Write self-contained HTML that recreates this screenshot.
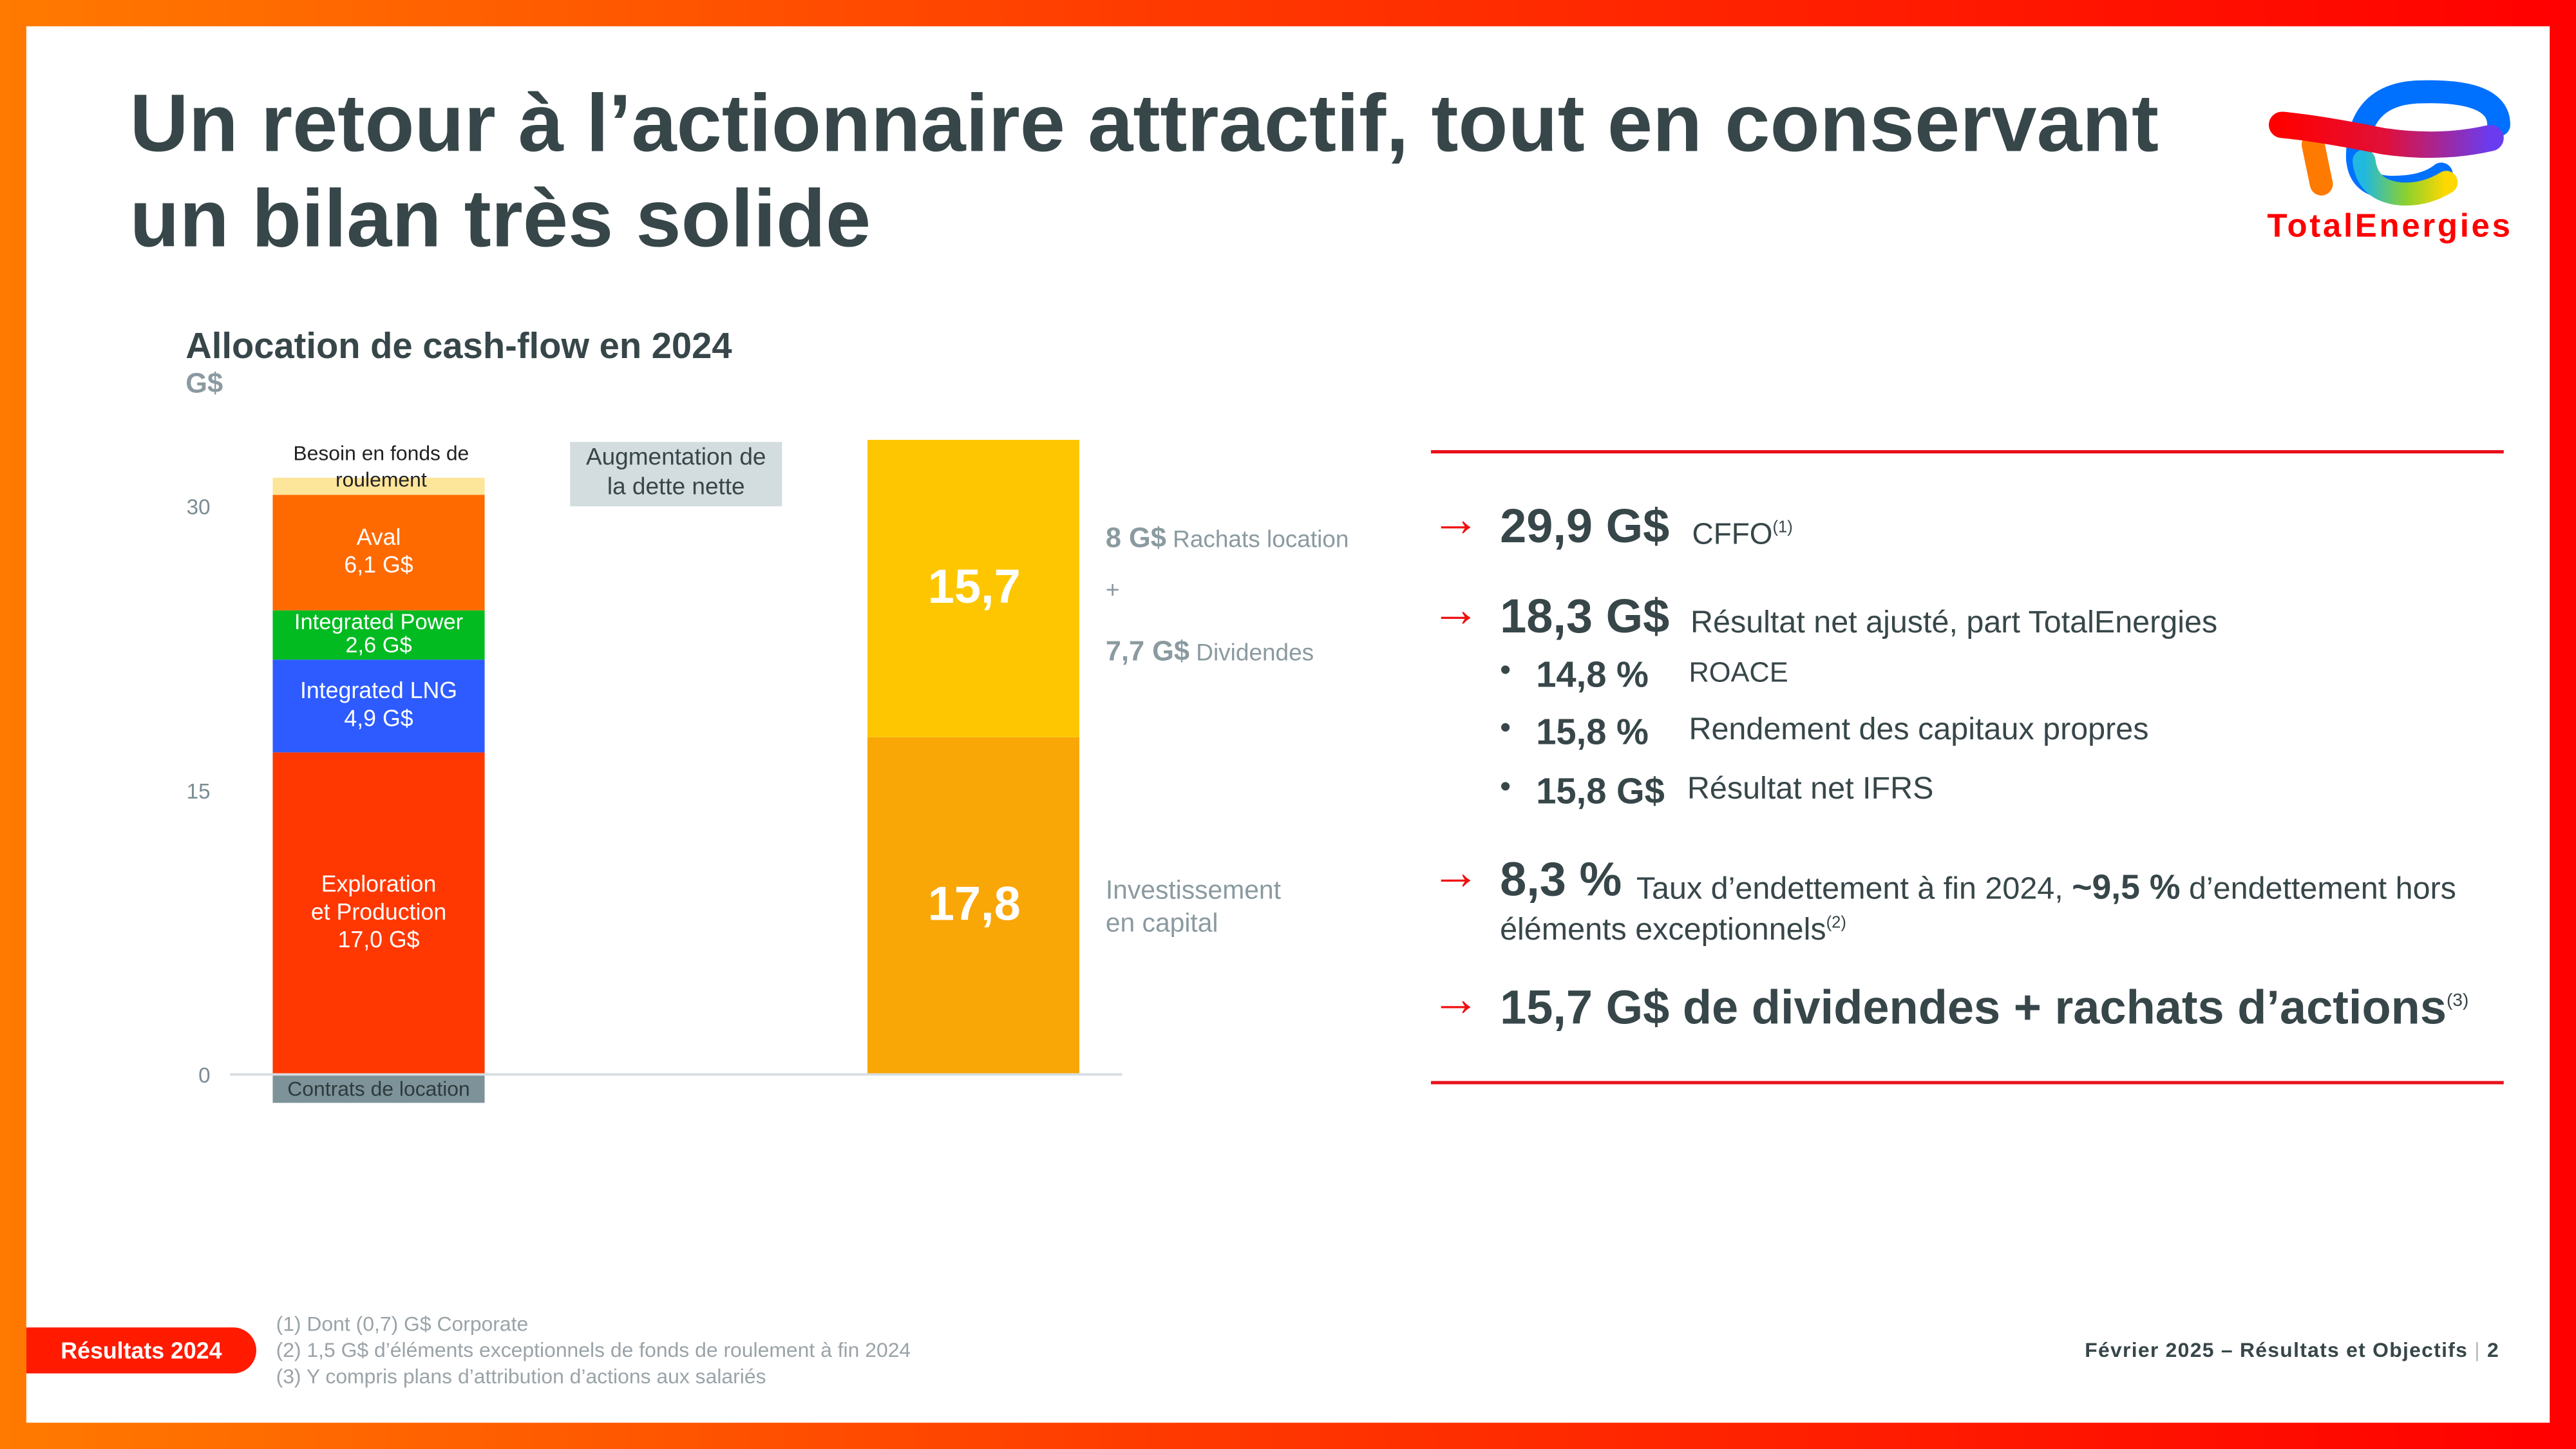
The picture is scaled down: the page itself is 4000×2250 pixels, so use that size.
<!DOCTYPE html>
<html><head><meta charset="utf-8">
<style>
html,body{margin:0;padding:0;width:4000px;height:2250px;overflow:hidden;}
#stage{position:absolute;left:0;top:0;width:1568px;height:882px;transform:scale(2.55102);transform-origin:0 0;font-family:"Liberation Sans",sans-serif;background:linear-gradient(90deg,#ff7a00,#ff3a00 45%,#ff0000);}
#page{position:absolute;left:16px;top:16px;width:1536px;height:850px;background:#fff;}
.abs{position:absolute;}
.arr{color:#f01010;font-size:30px;font-weight:bold;position:absolute;left:0;top:-6px;}
</style></head><body>
<div id="stage">
<div id="page">
  <div class="abs" style="left:63px;top:31px;font-size:49.5px;font-weight:bold;color:#374649;line-height:58px;white-space:nowrap;">Un retour à l’actionnaire attractif, tout en conservant<br>un bilan très solide</div>
  <svg class="abs" style="left:1355px;top:20px" width="170" height="135" viewBox="0 0 170 135">
    <defs>
      <linearGradient id="lg1" x1="0" x2="1"><stop offset="0" stop-color="#ff0000"/><stop offset=".5" stop-color="#e0103a"/><stop offset="1" stop-color="#6a3cf0"/></linearGradient>
      <linearGradient id="lg2" x1="0" x2="1" y1="0" y2="0"><stop offset="0" stop-color="#20b8e0"/><stop offset=".5" stop-color="#8ad030"/><stop offset="1" stop-color="#ffd800"/></linearGradient>
    </defs>
    <path d="M115 70 Q105 78 85 78 Q65 78 64 60 Q64 22 100 20 Q150 18 150 40" fill="none" stroke="#0070ff" stroke-width="14" stroke-linecap="round"/>
    <path d="M68 62 Q70 80 90 82 Q105 83 118 75" fill="none" stroke="url(#lg2)" stroke-width="14" stroke-linecap="round"/>
    <path d="M42 76 L37 52" fill="none" stroke="#ff7a00" stroke-width="14" stroke-linecap="round"/>
    <path d="M18 40 Q40 42 80 50 Q115 55 145 48" fill="none" stroke="url(#lg1)" stroke-width="16" stroke-linecap="round"/>
    <text x="9" y="108" font-size="20" font-weight="bold" fill="#ff0000" font-family="Liberation Sans, sans-serif" textLength="148">TotalEnergies</text>
  </svg>
  <div class="abs" style="left:97px;top:182px;font-size:22px;font-weight:bold;color:#374649;">Allocation de cash-flow en 2024</div>
  <div class="abs" style="left:97px;top:208px;font-size:17px;font-weight:bold;color:#8a9aa0;">G$</div>

  <svg id="chart" class="abs" style="left:-16px;top:-16px" width="850" height="720"></svg>

  <div class="abs" style="left:855px;top:258px;width:653px;height:2px;background:#e8101a"></div>
  <div class="abs" style="left:855px;top:642px;width:653px;height:2px;background:#e8101a"></div>

  <div class="abs" style="left:855px;top:0;width:680px;color:#374649;">
    <div class="abs" style="left:0;top:290px;white-space:nowrap"><span class="arr">→</span><span style="position:absolute;left:42px;top:-1px;font-size:29px;font-weight:bold">29,9 G$</span><span style="position:absolute;left:159px;top:9px;font-size:18px">CFFO<sup style="font-size:10px">(1)</sup></span></div>
    <div class="abs" style="left:0;top:345px;white-space:nowrap"><span class="arr">→</span><span style="position:absolute;left:42px;top:-1px;font-size:29px;font-weight:bold">18,3 G$</span><span style="position:absolute;left:158px;top:8px;font-size:19px">Résultat net ajusté, part TotalEnergies</span></div>
    <div class="abs" style="left:42px;top:382px;white-space:nowrap;font-size:19px">•<b style="position:absolute;left:22px;font-size:22px">14,8 %</b><span style="position:absolute;left:115px;top:2px;font-size:17px">ROACE</span></div>
    <div class="abs" style="left:42px;top:417px;white-space:nowrap;font-size:19px">•<b style="position:absolute;left:22px;font-size:22px">15,8 %</b><span style="position:absolute;left:115px;top:1px">Rendement des capitaux propres</span></div>
    <div class="abs" style="left:42px;top:453px;white-space:nowrap;font-size:19px">•<b style="position:absolute;left:22px;font-size:22px">15,8 G$</b><span style="position:absolute;left:114px;top:1px">Résultat net IFRS</span></div>
    <div class="abs" style="left:0;top:505px;white-space:nowrap"><span class="arr">→</span><span style="position:absolute;left:42px;top:-1px;font-size:29px;font-weight:bold">8,3 %</span><span style="position:absolute;left:125px;top:8px;font-size:19px">Taux d’endettement à fin 2024, <b style="font-size:21px">~9,5 %</b> d’endettement hors</span><span style="position:absolute;left:42px;top:35px;font-size:19px">éléments exceptionnels<sup style="font-size:10px">(2)</sup></span></div>
    <div class="abs" style="left:0;top:582px;white-space:nowrap"><span class="arr">→</span><span style="position:absolute;left:42px;top:0;font-size:29px;font-weight:bold">15,7 G$ de dividendes + rachats d’actions<sup style="font-size:11px;font-weight:normal">(3)</sup></span></div>
  </div>

  <div class="abs" style="left:0;top:792px;width:140px;height:28px;background:#ff1a00;border-radius:0 14px 14px 0;color:#fff;font-size:14px;font-weight:bold;line-height:28px;text-align:center;">Résultats 2024</div>
  <div class="abs" style="left:152px;top:782px;font-size:12.5px;color:#9aa3a8;line-height:16px;">(1) Dont (0,7) G$ Corporate<br>(2) 1,5 G$ d’éléments exceptionnels de fonds de roulement à fin 2024<br>(3) Y compris plans d’attribution d’actions aux salariés</div>
  <div class="abs" style="left:1253px;top:799px;font-size:12.5px;font-weight:bold;color:#374649;letter-spacing:.5px;white-space:nowrap">Février 2025 – Résultats et Objectifs <span style="color:#bbb;font-weight:normal">|</span> 2</div>
</div>
</div>
<script>
const yTicks=[0,15,30];
const leftLabels=["Exploration|et Production|17,0 G$","Integrated LNG|4,9 G$","Integrated Power|2,6 G$","Aval|6,1 G$","Besoin en fonds de|roulement"];
const leftValues=[17.0,4.9,2.6,6.1,0.9];
const leftColors=["#ff3700","#2d5bff","#02bb21","#ff6a00","#fde59a"];
const leaseValue=-1.5;
const rightValues=[17.8,15.7];
const rightLabels=["17,8","15,7"];
const rightColors=["#f9a607","#fdc600"];
const netDebtValue=3.4;

const svg=document.getElementById('chart');
const NS='http://www.w3.org/2000/svg';
const y0=654, pxPer=11.53;
function y(v){return y0-v*pxPer;}
function el(tag,attrs,txt){const e=document.createElementNS(NS,tag);for(const k in attrs)e.setAttribute(k,attrs[k]);if(txt!==undefined)e.textContent=txt;svg.appendChild(e);return e;}
function lines(parts,cx,cy,lh,attrs){parts.forEach((p,i)=>{const t=el('text',Object.assign({x:cx,y:cy+(i-(parts.length-1)/2)*lh,'text-anchor':'middle','dominant-baseline':'middle'},attrs),p);

});}

yTicks.forEach(v=>{const t=el('text',{x:128,y:y(v)+5,'text-anchor':'end','font-size':13,fill:'#7a8c92','font-family':'Liberation Sans, sans-serif'},String(v));

});

const lr=el('rect',{x:166,y:y(0),width:129,height:y(leaseValue)-y(0),fill:'#7d9399'});


lines(["Contrats de location"],230.5,(y(0)+y(leaseValue))/2+1,14,{'font-size':12.5,fill:'#2e3a3d','font-family':'Liberation Sans, sans-serif'});

let acc=0;
leftValues.forEach((v,i)=>{const top=y(acc+v),bot=y(acc);
const r=el('rect',{x:166,y:top,width:129,height:bot-top,fill:leftColors[i]});


const parts=leftLabels[i].split('|');
if(i===4){lines(parts,232,top-6,16,{'font-size':12.5,fill:'#222','font-family':'Liberation Sans, sans-serif'});}
else{const small=i===2;lines(parts,230.5,(top+bot)/2,small?14:17,{'font-size':small?13.5:14,fill:'#fff','font-family':'Liberation Sans, sans-serif'});}
acc+=v;});

const nd=el('rect',{x:347,y:269,width:129,height:netDebtValue*pxPer,fill:'#d3dcdf'});


lines(["Augmentation de","la dette nette"],411.5,288,18,{'font-size':14.5,fill:'#374649','font-family':'Liberation Sans, sans-serif'});

acc=0;
rightValues.forEach((v,i)=>{const top=y(acc+v),bot=y(acc);
const r=el('rect',{x:528,y:top,width:129,height:bot-top,fill:rightColors[i]});


lines([rightLabels[i]],593,(top+bot)/2+1,20,{'font-size':29,'font-weight':'bold',fill:'#fff','font-family':'Liberation Sans, sans-serif'});
acc+=v;});

const ax=el('line',{x1:140,x2:683,y1:y0,y2:y0,stroke:'#d7dde0','stroke-width':1.5});



const ann=[[673,333,'<tspan font-weight="bold" font-size="17">8 G$</tspan> Rachats location'],[673,364,'+'],[673,402,'<tspan font-weight="bold" font-size="17">7,7 G$</tspan> Dividendes'],[673,547,'Investissement'],[673,567,'en capital']];
ann.forEach(a=>{const t=el('text',{x:a[0],y:a[1],'font-size':a[1]>500?16:14.5,fill:'#8a9aa0','font-family':'Liberation Sans, sans-serif'});t.innerHTML=a[2];

});
</script>
</body></html>
